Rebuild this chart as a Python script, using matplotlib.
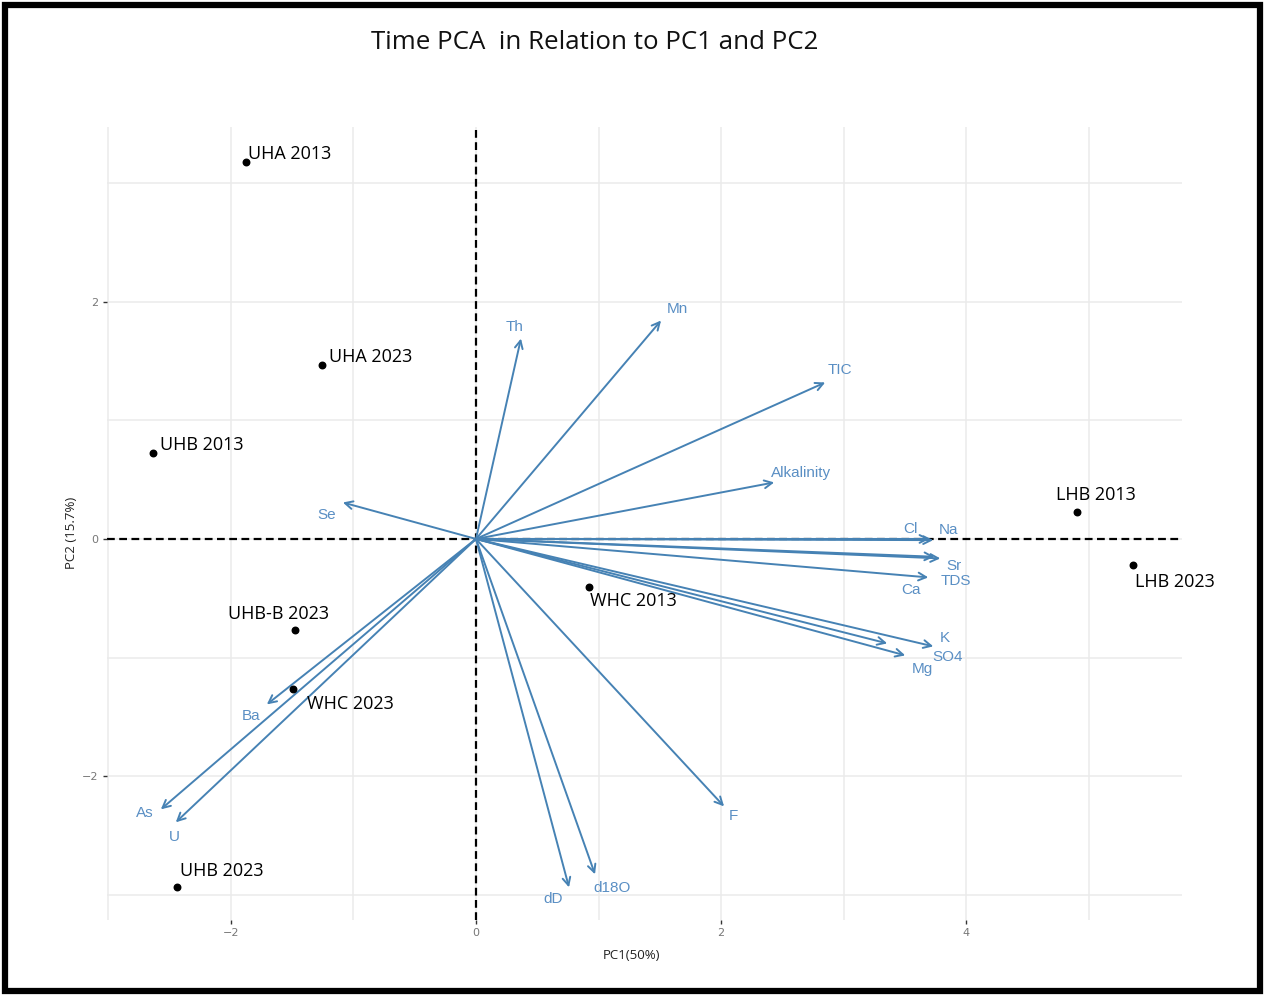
import matplotlib
matplotlib.use("Agg")
import matplotlib.pyplot as plt
from matplotlib.patches import Rectangle

# sample scores (PC1, PC2)
samples = ["UHA 2013", "UHA 2023", "UHB 2013", "LHB 2013", "LHB 2023",
           "WHC 2013", "UHB-B 2023", "WHC 2023", "UHB 2023"]
pc1 = [-1.878, -1.257, -2.637, 4.906, 5.363, 0.922, -1.478, -1.494, -2.441]
pc2 = [3.179, 1.461, 0.720, 0.223, -0.223, -0.408, -0.771, -1.267, -2.935]

# variable loadings (arrow tips)
variables = ["Th", "Mn", "TIC", "Alkalinity", "Cl", "Na", "Sr", "TDS", "Ca",
             "K", "SO4", "Mg", "Se", "Ba", "As", "U", "dD", "d18O", "F"]
load1 = [0.367, 1.510, 2.849, 2.433, 3.700, 3.730, 3.788, 3.740, 3.690,
         3.731, 3.355, 3.502, -1.086, -1.706, -2.571, -2.449, 0.759, 0.971, 2.024]
load2 = [1.688, 1.840, 1.318, 0.476, 0.000, -0.010, -0.164, -0.150, -0.324,
         -0.905, -0.880, -0.981, 0.307, -1.394, -2.278, -2.387, -2.935, -2.825, -2.253]

# label offsets in pixels (repelled positions)
sample_off = [(2, 8), (7, 8), (7, 8), (-19, 17), (2, -17),
              (1, -14), (-67, 16), (14, -15), (3, 16)]
var_off = [(-6, 12), (16, 11), (15, 12), (27, 9), (-19, 10), (15, 10), (14, -8),
           (21, -24), (-17, -13), (12, 8), (60, -14), (17, -14), (-16, -13),
           (-16, -12), (-16, -4), (-1, -15), (-16, -12), (17, -14), (9, -10)]

fig = plt.figure(figsize=(12.65, 9.96), dpi=100)
ax = fig.add_axes([0.0846, 0.0763, 0.8498, 0.7962])

grid_c = "#EBEBEB"
for v in range(-3, 6):
    ax.axvline(v, color=grid_c, lw=1.1, zorder=0)
for v in range(-3, 4):
    ax.axhline(v, color=grid_c, lw=1.1, zorder=0)

ax.axhline(0, color="black", ls=(0, (3.5, 2)), lw=1.6, zorder=1)
ax.axvline(0, color="black", ls=(0, (3.5, 2)), lw=1.6, zorder=1)

arrow_c = "#4682B4"
for name, x, y, (dx, dy) in zip(variables, load1, load2, var_off):
    ax.annotate("", xy=(x, y), xytext=(0, 0),
                arrowprops=dict(arrowstyle="->", color=arrow_c, lw=1.4,
                                mutation_scale=14, shrinkA=0, shrinkB=0),
                zorder=2)
    ax.annotate(name, xy=(x, y), xytext=(dx, dy), textcoords="offset pixels",
                ha="center", va="center", color="#5A8FC4",
                fontsize=11, family="Liberation Sans", zorder=3)

ax.scatter(pc1, pc2, s=22, color="black", zorder=4)
for name, x, y, (dx, dy) in zip(samples, pc1, pc2, sample_off):
    ha = "center" if name == "LHB 2013" else "left"
    if ha == "center":
        dx = 19
    ax.annotate(name, xy=(x, y), xytext=(dx, dy), textcoords="offset pixels",
                ha=ha, va="center", color="black",
                fontsize=13, family="Open Sans", zorder=5)

ax.set_xlim(-3.01, 5.76)
ax.set_ylim(-3.21, 3.47)
ax.set_xticks([-2, 0, 2, 4])
ax.set_yticks([-2, 0, 2])
ax.tick_params(length=3, width=1, color="#333333", labelsize=8,
               labelcolor="#777777", pad=3)
for s in ax.spines.values():
    s.set_visible(False)

ax.set_xlabel("PC1(50%)", fontsize=9.5, family="Open Sans", color="#222222")
ax.set_ylabel("PC2 (15.7%)", fontsize=9.5, family="Open Sans", color="#222222")
ax.xaxis.set_label_coords(0.488, -0.037)
ax.yaxis.set_label_coords(-0.027, 0.488)

fig.text(0.470, 0.957, "Time PCA  in Relation to PC1 and PC2", ha="center",
         va="center", fontsize=18.6, family="Open Sans", color="#111111")

fig.patches.append(Rectangle((0.004, 0.005), 0.992, 0.99, transform=fig.transFigure,
                             fill=False, edgecolor="black", lw=4.5))

fig.savefig("out.png", dpi=100)
